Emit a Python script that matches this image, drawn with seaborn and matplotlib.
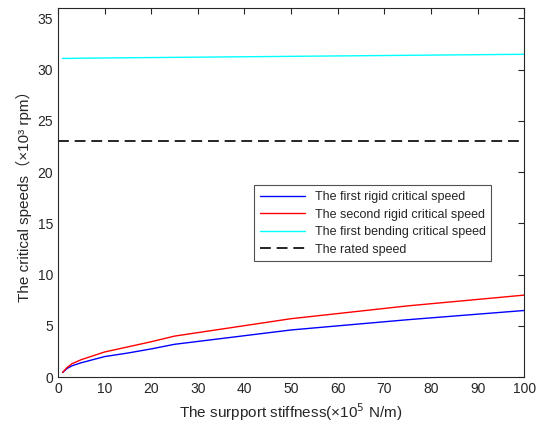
import pandas as pd
import matplotlib
matplotlib.use("Agg")
import matplotlib.pyplot as plt
import seaborn as sns

# values (stiffness in 1e5 N/m, speeds in 1e3 rpm)
stiffness = [1, 2, 3, 5, 10, 15, 20, 25, 50, 75, 100]
first_rigid = [0.45, 0.85, 1.1, 1.4, 2.0, 2.35, 2.75, 3.2, 4.6, 5.6, 6.5]
second_rigid = [0.45, 0.95, 1.3, 1.7, 2.45, 2.95, 3.45, 4.0, 5.7, 6.95, 8.0]
first_bending = [31.1, 31.1, 31.1, 31.12, 31.14, 31.16, 31.18, 31.2, 31.3, 31.4, 31.5]
rated_x = [0, 100]
rated_speed = [23, 23]

sns.set_style("white")
plt.rcParams['font.family'] = ['Liberation Sans', 'Noto Sans CJK SC', 'DejaVu Sans']

df = pd.DataFrame({
    'k': stiffness * 3,
    'speed': first_rigid + second_rigid + first_bending,
    'curve': (['The first rigid critical speed'] * len(stiffness)
              + ['The second rigid critical speed'] * len(stiffness)
              + ['The first bending critical speed'] * len(stiffness)),
})

fig = plt.figure(figsize=(5.36, 4.30), dpi=100)
ax = fig.add_axes([0.108, 0.123, 0.870, 0.858])

sns.lineplot(data=df, x='k', y='speed', hue='curve',
             palette=['#0000ff', '#ff0000', '#00ffff'], linewidth=1, ax=ax)
sns.lineplot(x=rated_x, y=rated_speed, color='black', linestyle=(0, (6.5, 3.5)),
             linewidth=1.2, label='The rated speed', ax=ax)

ax.set_xlim(0, 100)
ax.set_ylim(0, 36)
ax.set_xticks(range(0, 101, 10))
ax.set_yticks(range(0, 36, 5))
ax.tick_params(direction='in', top=True, right=True, labelsize=10, length=4,
               colors='#262626', labelcolor='#262626')
for s in ax.spines.values():
    s.set_color('#262626')
    s.set_linewidth(0.8)

ax.set_xlabel('The surpport stiffness(×10$^5$ N/m)', fontsize=11, color='#262626')
ax.set_ylabel('The critical speeds（×10³ rpm）', fontsize=11, color='#262626')

leg = ax.legend(loc='upper left', bbox_to_anchor=(0.421, 0.52), fontsize=9,
                frameon=True, fancybox=False, edgecolor='#262626',
                borderaxespad=0, handlelength=3.6, borderpad=0.45,
                labelspacing=0.45)
leg.get_frame().set_linewidth(0.8)

fig.savefig('out.png', dpi=100)
